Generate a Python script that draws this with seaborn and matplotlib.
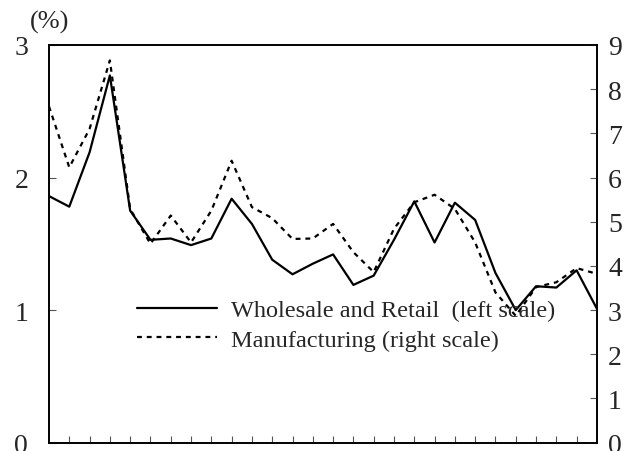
import numpy as np
import pandas as pd
import matplotlib
matplotlib.use("Agg")
import matplotlib.pyplot as plt
import seaborn as sns

# values
period = list(range(28))
wholesale = [1.86, 1.78, 2.19, 2.77, 1.75, 1.53, 1.54, 1.49, 1.54, 1.84,
             1.65, 1.38, 1.27, 1.35, 1.42, 1.19, 1.26, 1.53, 1.82, 1.51,
             1.81, 1.68, 1.28, 1.00, 1.18, 1.17, 1.30, 1.01]
manufacturing = [7.61, 6.23, 7.10, 8.65, 5.29, 4.50, 5.14, 4.53, 5.25, 6.38,
                 5.33, 5.08, 4.61, 4.62, 4.95, 4.31, 3.86, 4.84, 5.44, 5.61,
                 5.29, 4.53, 3.40, 2.87, 3.52, 3.63, 3.95, 3.82]
left_ticks = [0, 1, 2, 3]
right_ticks = list(range(10))

df = pd.DataFrame({"period": period, "wholesale": wholesale, "manufacturing": manufacturing})

sns.set_style("white")
plt.rcParams['font.family'] = ['Liberation Serif', 'DejaVu Serif']

fig = plt.figure(figsize=(6.32, 4.52), dpi=100)
ax = fig.add_axes([0.0775, 0.0184, 0.867, 0.880])
ax2 = ax.twinx()

sns.lineplot(data=df, x="period", y="wholesale", ax=ax, color="black", lw=1.6,
             label="Wholesale and Retail  (left scale)", legend=False)
sns.lineplot(data=df, x="period", y="manufacturing", ax=ax2, color="black", lw=1.6,
             linestyle=(0, (2.2, 2.2)), label="Manufacturing (right scale)", legend=False)

ax.set_xlim(0, 27)
ax.set_ylim(0, 3)
ax2.set_ylim(0, 9)
ax.set_yticks(left_ticks)
ax2.set_yticks(right_ticks)
ax.set_xticks(period[1:-1])
ax.set_xticklabels([])
ax.set_xlabel("")
ax.set_ylabel("")
ax2.set_ylabel("")

for a in (ax, ax2):
    for s in a.spines.values():
        s.set_color("black")
        s.set_linewidth(1.2)
    a.tick_params(direction="in", length=5, width=0.8, color="#555555", labelsize=20)
ax.tick_params(axis="y", pad=15)
ax2.tick_params(axis="y", pad=8)
ax.tick_params(axis="x", bottom=True, length=5)

fig.text(0.078, 0.95, "(%)", fontsize=19, ha="center", va="center")

h1, l1 = ax.get_legend_handles_labels()
h2, l2 = ax2.get_legend_handles_labels()
ax.legend(h1 + h2, l1 + l2, loc="upper left", bbox_to_anchor=(0.16, 0.36),
          frameon=False, fontsize=17.5, handlelength=3.3, handletextpad=0.6,
          labelspacing=0.3, borderaxespad=0, borderpad=0)

fig.savefig("out.png", dpi=100)
